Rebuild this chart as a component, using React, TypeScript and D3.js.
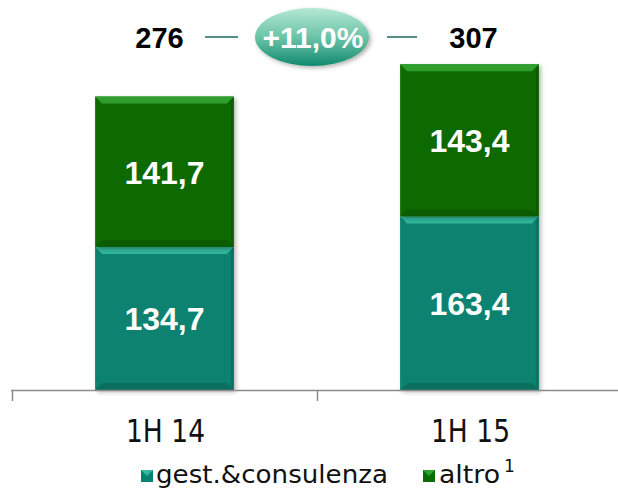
import React from 'react';
import * as d3 from 'd3';

const categories = ['1H 14', '1H 15'];
const gestValues = [134.7, 163.4];
const altroValues = [141.7, 143.4];
const totals = [276, 307];
const growthLabel = '+11,0%';
const seriesNames = ['gest.&consulenza', 'altro'];

const W = 618;
const H = 490;
const SANS = '"Liberation Sans", Arial, sans-serif';
const THIN = '"DejaVu Sans", sans-serif';

export default function App() {
  const x = d3.scaleBand().domain(categories).range([12, 622]);
  const y = d3.scaleLinear().domain([0, 307]).range([390, 64]);
  const bw = x.bandwidth() * 0.455;
  const cx = (c: string) => x(c)! + x.bandwidth() / 2;

  const rows = categories.map((c, i) => ({ cat: c, gest: gestValues[i], altro: altroValues[i] }));
  const keys = ['gest', 'altro'];
  const stacked = d3.stack<any>().keys(keys)(rows);
  const colors = ['#078270', '#086b06'];
  const topColors = ['#3cc8a8', '#3bb03c'];
  const fmt = (v: number) => v.toFixed(1).replace('.', ',');

  return (
    <div style={{ position: 'absolute', left: 0, top: 0 }}>
      <svg width={W} height={H} style={{ display: 'block', background: '#fff' }}>
        <defs>
          <linearGradient id="ell" x1="0" y1="0" x2="0" y2="1">
            <stop offset="0" stopColor="#b4e8d4" />
            <stop offset="0.5" stopColor="#6cc4a8" />
            <stop offset="1" stopColor="#118a6f" />
          </linearGradient>
          <filter id="sh" x="-20%" y="-20%" width="140%" height="140%">
            <feDropShadow dx="2" dy="2" stdDeviation="2" floodColor="#000" floodOpacity="0.3" />
          </filter>
        </defs>

        {stacked.map((s, si) => (
          <g key={si}>
            {s.map((d, i) => {
              const x0 = cx(categories[i]) - bw / 2;
              const yt = y(d[1]);
              const yb = y(d[0]);
              const bev = 7;
              return (
                <g key={i}>
                  <rect x={x0} y={yt} width={bw} height={yb - yt} fill={colors[si]} filter="url(#sh)" />
                  <polygon points={`${x0},${yt} ${x0 + bw},${yt} ${x0 + bw - bev},${yt + bev} ${x0 + bev},${yt + bev}`} fill={topColors[si]} opacity={0.75} />
                  <polygon points={`${x0},${yb} ${x0 + bw},${yb} ${x0 + bw - bev},${yb - bev} ${x0 + bev},${yb - bev}`} fill="#000" opacity={0.14} />
                  <polygon points={`${x0 + bw},${yt} ${x0 + bw},${yb} ${x0 + bw - 3},${yb - 3} ${x0 + bw - 3},${yt + 3}`} fill="#000" opacity={0.12} />
                  <text x={x0 + bw / 2} y={(yt + yb) / 2 + 12} textAnchor="middle" fill="#fff" fontFamily={SANS} fontWeight="bold" fontSize={32}>
                    {fmt(d.data[keys[si]])}
                  </text>
                </g>
              );
            })}
          </g>
        ))}

        <line x1={11} x2={618} y1={390.5} y2={390.5} stroke="#8c8c8c" strokeWidth={1.5} />
        {categories.map((c) => (
          <line key={c} x1={x(c)! + 0.5} x2={x(c)! + 0.5} y1={390} y2={401} stroke="#8c8c8c" strokeWidth={1.5} />
        ))}
        {categories.map((c) => (
          <text key={c} x={cx(c) + 1} y={442} textAnchor="middle" fontFamily={THIN} fontSize={32} fill="#111" textLength={79} lengthAdjust="spacingAndGlyphs">
            {c}
          </text>
        ))}

        {totals.map((t, i) => (
          <text key={i} x={cx(categories[i]) + (i === 0 ? -5 : 4)} y={48} textAnchor="middle" fontFamily={SANS} fontWeight="bold" fontSize={29} fill="#000">
            {t}
          </text>
        ))}
        <line x1={205} x2={238} y1={37} y2={37} stroke="#1a6a58" strokeWidth={1.5} />
        <line x1={387} x2={417} y1={37} y2={37} stroke="#1a6a58" strokeWidth={1.5} />
        <ellipse cx={312} cy={37} rx={57} ry={29} fill="url(#ell)" filter="url(#sh)" />
        <text x={313} y={48} textAnchor="middle" fontFamily={SANS} fontWeight="bold" fontSize={30} fill="#fff">
          {growthLabel}
        </text>

        <g>
          <rect x={141} y={470} width={12} height={12} fill={colors[0]} />
          <polygon points="141,470 153,470 147,476" fill={topColors[0]} opacity={0.8} />
          <text x={156} y={483} fontFamily={THIN} fontSize={24} fill="#111" textLength={232} lengthAdjust="spacingAndGlyphs">{seriesNames[0]}</text>
          <rect x={423} y={470} width={12} height={12} fill={colors[1]} />
          <polygon points="423,470 435,470 429,476" fill={topColors[1]} opacity={0.8} />
          <text x={439} y={483} fontFamily={THIN} fontSize={24} fill="#111" textLength={61} lengthAdjust="spacingAndGlyphs">
            {seriesNames[1]}
          </text>
          <text x={504} y={472} fontFamily={THIN} fontSize={17} fill="#111">1</text>
        </g>
      </svg>
    </div>
  );
}
